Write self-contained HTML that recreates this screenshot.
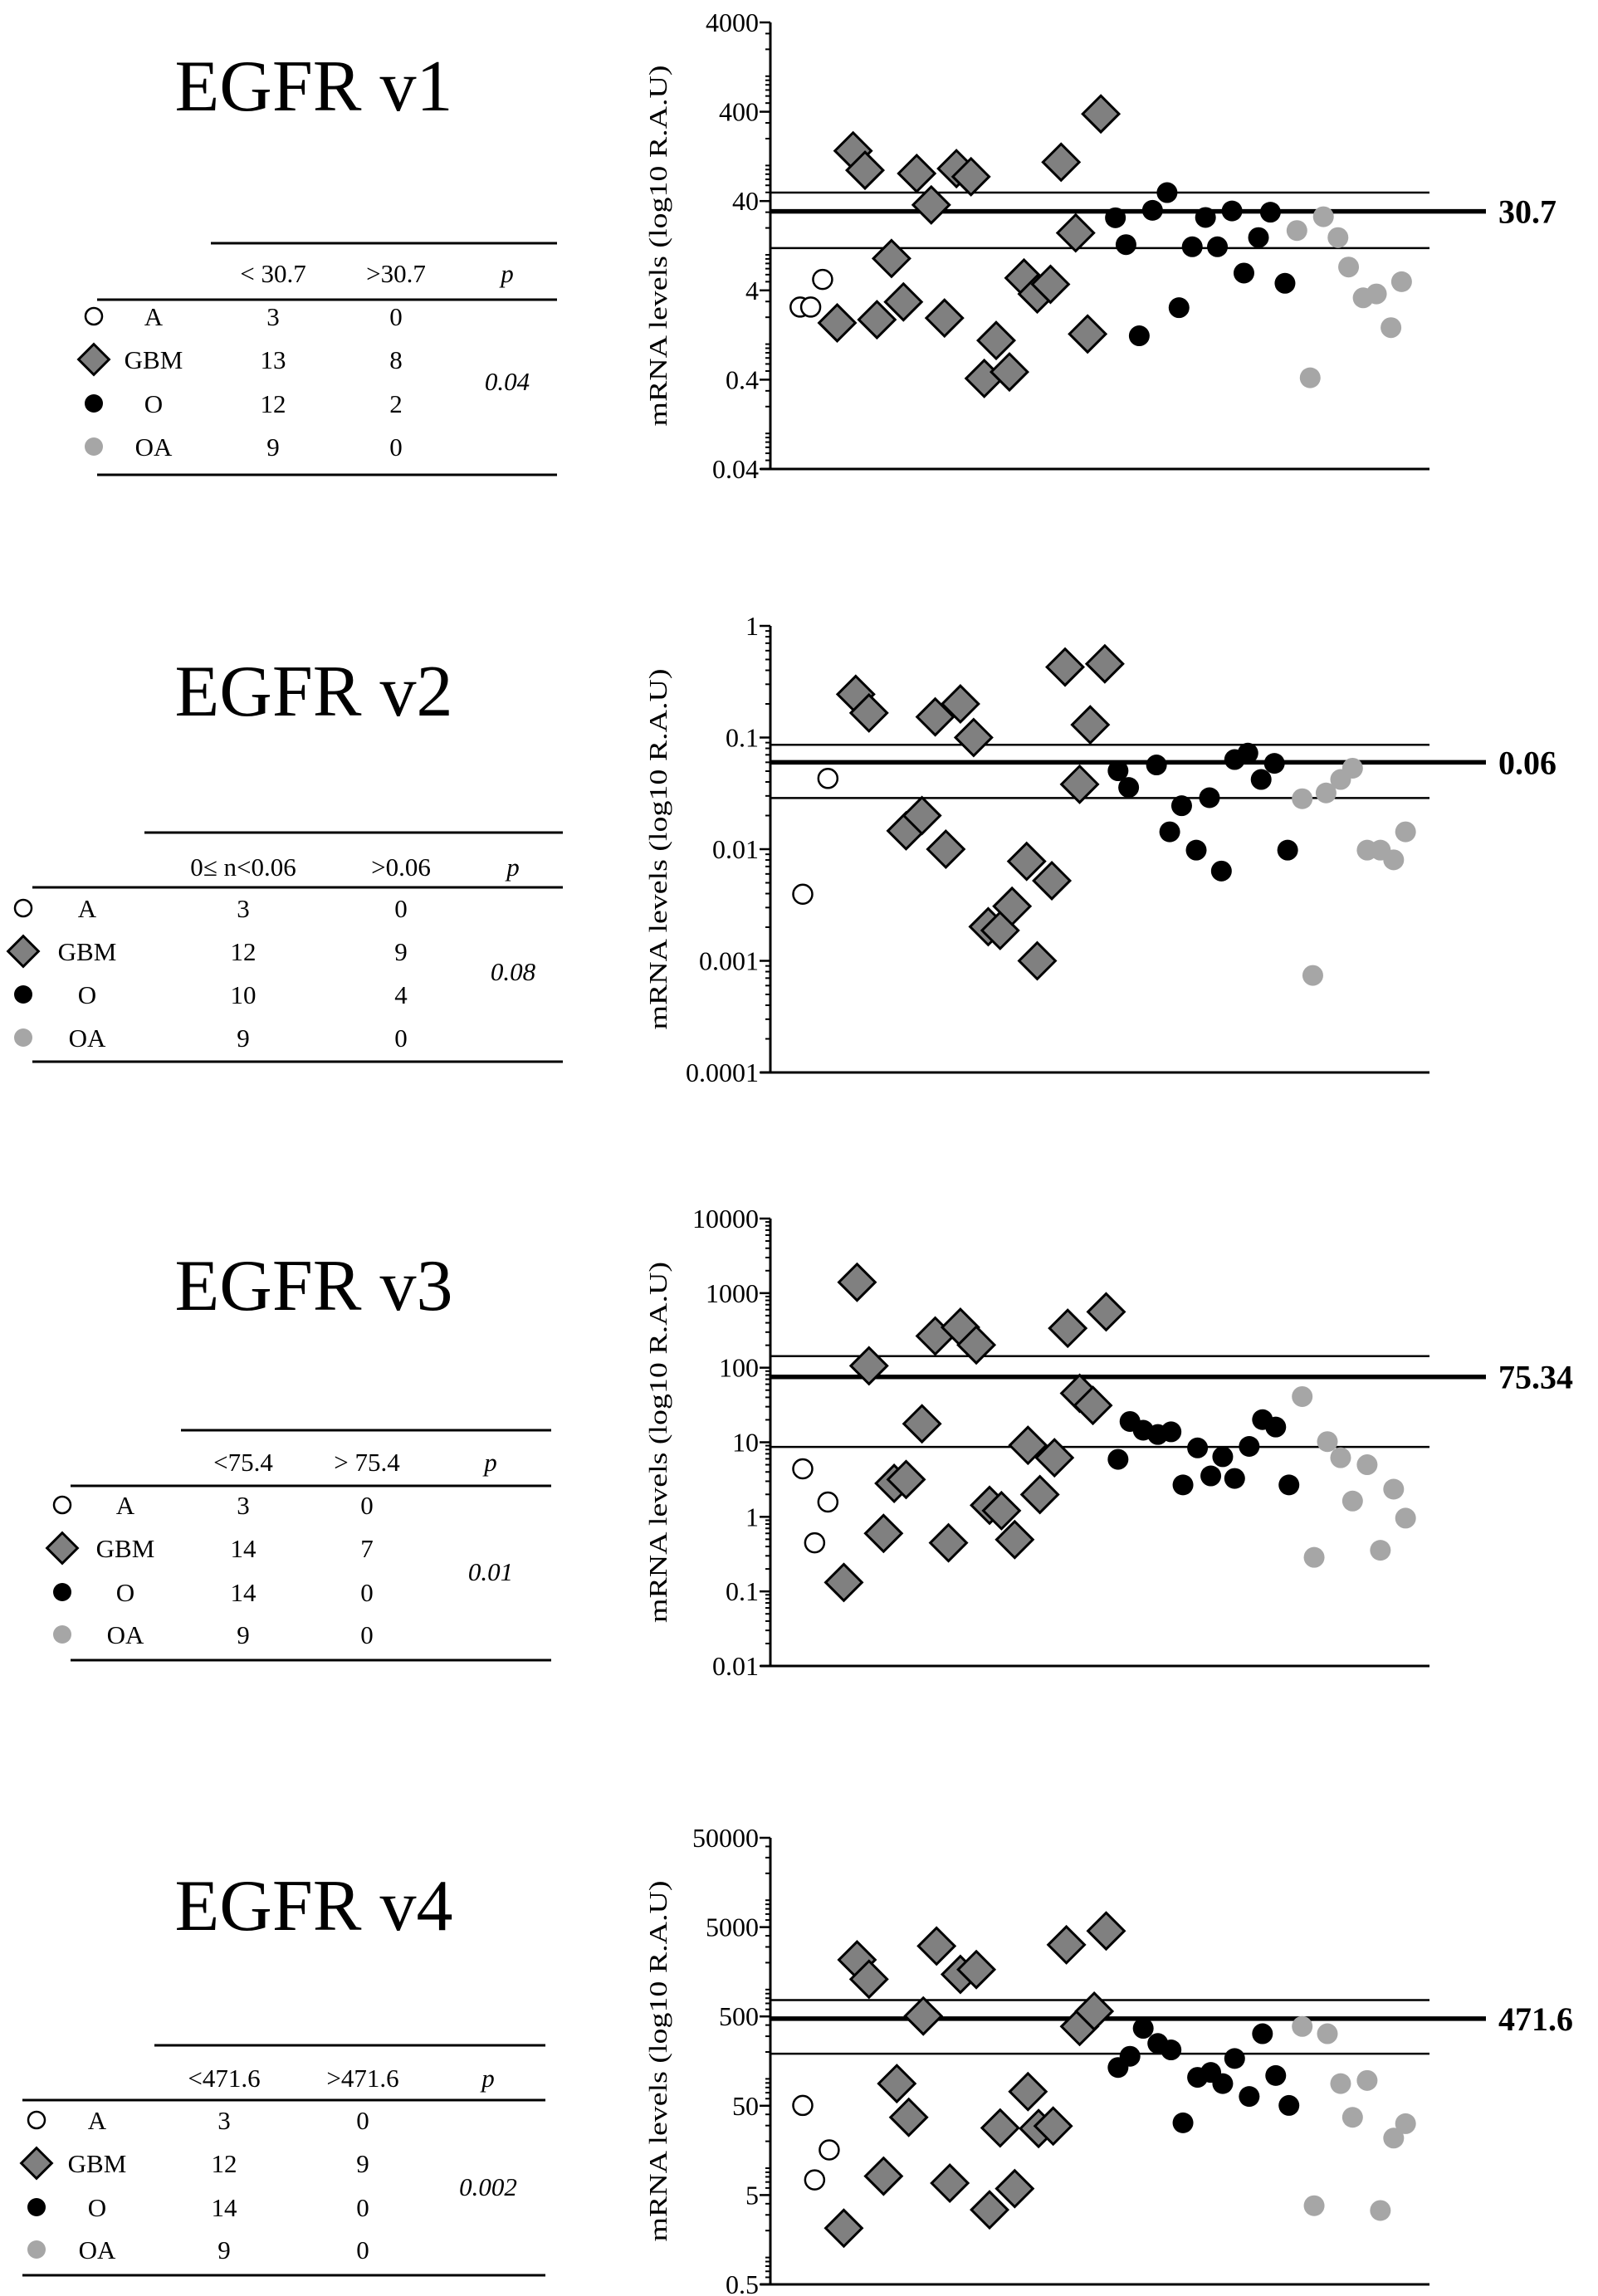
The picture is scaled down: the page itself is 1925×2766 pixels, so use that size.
<!DOCTYPE html>
<html><head><meta charset="utf-8">
<style>
html,body{margin:0;padding:0;background:#fff;}
svg{display:block;font-family:"Liberation Serif",serif;}
</style></head>
<body>
<svg id="fig" width="1925" height="2766" viewBox="0 0 1925 2766" xmlns="http://www.w3.org/2000/svg"></svg>
<script>
// ---------- DATA ----------
// Panel v1
const v1Ticks = [4000, 400, 40, 4, 0.4, 0.04];
const v1Threshold = 30.7, v1Upper = 49.7, v1Lower = 11.9;
const v1A_order = [-0.2, 0.6, 1.5];
const v1A_vals = [2.6, 2.6, 5.3];
const v1GBM_order = [2.6,3.8,4.7,5.6,6.7,7.6,8.6,9.7,10.7,11.6,12.7,13.7,14.6,15.6,16.7,17.7,18.7,19.5,20.6,21.5,22.5];
const v1GBM_vals = [1.73,146,88.5,1.88,9.1,2.97,81.5,36.2,1.96,92.3,75,0.413,1.10,0.488,5.5,3.65,4.68,109,17.6,1.30,378];
const v1O_order = [23.6,24.4,25.4,26.4,27.5,28.4,29.4,30.4,31.3,32.4,33.3,34.4,35.3,36.4];
const v1O_vals = [26,13,1.24,31.5,49.7,2.56,12.3,26.2,12.3,31,6.25,15.6,30,4.8];
const v1OA_order = [37.3,38.3,39.3,40.4,41.2,42.3,43.3,44.4,45.2];
const v1OA_vals = [18.7,0.42,26.7,15.6,7.3,3.3,3.65,1.53,5.0];
// Panel v2
const v2Ticks = [1, 0.1, 0.01, 0.001, 0.0001];
const v2Threshold = 0.06, v2Upper = 0.086, v2Lower = 0.0287;
const v2A_order = [0, 1.9];
const v2A_vals = [0.00395, 0.043];
const v2GBM_order = [4.0,5.0,7.8,9.0,10.0,10.8,11.9,12.9,14.0,14.9,15.8,16.9,17.7,18.8,19.8,20.9,21.7,22.8];
const v2GBM_vals = [0.244,0.166,0.0146,0.020,0.153,0.01,0.2,0.1,0.00202,0.00187,0.00308,0.00778,0.001,0.00522,0.428,0.0381,0.13,0.457];
const v2O_order = [23.8,24.6,26.7,27.7,28.6,29.7,30.7,31.6,32.6,33.6,34.6,35.6,36.6];
const v2O_vals = [0.0504,0.0357,0.0568,0.0143,0.0245,0.0098,0.0289,0.00637,0.0635,0.0725,0.0421,0.0587,0.0098];
const v2OA_order = [37.7,38.5,39.5,40.6,41.5,42.6,43.6,44.6,45.5];
const v2OA_vals = [0.0283,0.00074,0.0319,0.0421,0.0531,0.0098,0.0098,0.00803,0.0143];
// Panel v3
const v3Ticks = [10000, 1000, 100, 10, 1, 0.1, 0.01];
const v3Threshold = 75.34, v3Upper = 143, v3Lower = 8.65;
const v3A_order = [0, 0.9, 1.9];
const v3A_vals = [4.4, 0.448, 1.58];
const v3GBM_order = [3.1,4.1,5.0,6.1,6.9,7.8,9.0,10.0,11.0,11.9,13.1,14.1,15.0,16.0,17.0,17.9,19.0,20.0,20.9,21.9,22.9];
const v3GBM_vals = [0.132,1400,106,0.60,2.81,3.17,17.7,266,0.448,348,202,1.43,1.21,0.495,9.1,1.99,6.2,338,45.4,31.2,561];
const v3O_order = [23.8,24.7,25.7,26.8,27.8,28.7,29.8,30.8,31.7,32.6,33.7,34.7,35.7,36.7];
const v3O_vals = [5.9,19,14.5,12.7,13.8,2.68,8.4,3.54,6.4,3.27,8.8,20.1,16,2.68];
const v3OA_order = [37.7,38.6,39.6,40.6,41.5,42.6,43.6,44.6,45.5];
const v3OA_vals = [41,0.286,10.2,6.2,1.63,5.0,0.356,2.35,0.96];
// Panel v4
const v4Ticks = [50000, 5000, 500, 50, 5, 0.5];
const v4Threshold = 471.6, v4Upper = 762, v4Lower = 191;
const v4A_order = [0, 0.9, 2.0];
const v4A_vals = [50.4, 7.4, 16];
const v4GBM_order = [3.1,4.1,5.0,6.1,7.1,8.0,9.1,10.1,11.1,11.9,13.1,14.1,14.9,16.0,17.0,17.8,18.9,19.9,20.9,22.0,22.9];
const v4GBM_vals = [2.13,2150,1306,8.15,88.5,37.1,505,3070,6.8,1479,1675,3.42,28.2,5.9,72,27.8,29.6,3170,386,571,4530];
const v4O_order = [23.8,24.7,25.7,26.8,27.8,28.7,29.8,30.8,31.7,32.6,33.7,34.7,35.7,36.7];
const v4O_vals = [134,179,368,249,211,32.2,104,118,88.5,169,63.5,320,109,50.4];
const v4OA_order = [37.7,38.6,39.6,40.6,41.5,42.6,43.6,44.6,45.5];
const v4OA_vals = [386,3.8,320,88.5,37.1,96,3.36,21.7,31.5];

// Tables
const groupNames = ["A", "GBM", "O", "OA"];
const v1Headers = ["< 30.7", ">30.7", "p"];
const v1Low = [3, 13, 12, 9], v1High = [0, 8, 2, 0], v1P = "0.04";
const v2Headers = ["0≤ n<0.06", ">0.06", "p"];
const v2Low = [3, 12, 10, 9], v2High = [0, 9, 4, 0], v2P = "0.08";
const v3Headers = ["<75.4", "> 75.4", "p"];
const v3Low = [3, 14, 14, 9], v3High = [0, 7, 0, 0], v3P = "0.01";
const v4Headers = ["<471.6", ">471.6", "p"];
const v4Low = [3, 12, 14, 9], v4High = [0, 9, 0, 0], v4P = "0.002";

// ---------- RENDER ----------
const NS = "http://www.w3.org/2000/svg";
const svg = document.getElementById('fig');
function mk(tag, attrs, parent, text) {
  const e = document.createElementNS(NS, tag);
  for (const k in attrs) e.setAttribute(k, attrs[k]);
  if (text !== undefined) e.textContent = text;
  (parent || svg).appendChild(e);
  return e;
}
function marker(g, type, cx, cy, size) {
  let e;
  if (type === "GBM") {
    const h = size * 1.75;
    e = mk('polygon', {points: `${cx},${cy-h} ${cx+h},${cy} ${cx},${cy+h} ${cx-h},${cy}`, fill: '#808080', stroke: '#000', 'stroke-width': 3}, g);
  } else if (type === "A") {
    e = mk('circle', {cx: cx, cy: cy, r: size - 1, fill: '#fff', stroke: '#000', 'stroke-width': 2.5}, g);
  } else if (type === "O") {
    e = mk('circle', {cx: cx, cy: cy, r: size, fill: '#000'}, g);
  } else {
    e = mk('circle', {cx: cx, cy: cy, r: size, fill: '#a6a6a6'}, g);
  }
  return e;
}

const AX_X = 928, LINE_END = 1722, THICK_END = 1790;
function xScale(order) { return 967 + order * 15.96; }

function drawChart(id, top, bottom, ticks, thr, up, lo, series) {
  const g = mk('g', {}, svg);
  
  
  const lmax = Math.log10(ticks[0]), lmin = Math.log10(ticks[ticks.length - 1]);
  const yScale = v => top + (lmax - Math.log10(v)) / (lmax - lmin) * (bottom - top);
  const ax = mk('line', {x1: AX_X, y1: top, x2: AX_X, y2: bottom, stroke: '#000', 'stroke-width': 3}, g);
  
  
  for (let m = Math.floor(lmin) - 1; m <= Math.ceil(lmax); m++) {
    for (let k = 1; k <= 9; k++) {
      const v = k * Math.pow(10, m);
      const lv = Math.log10(v);
      if (lv < lmin - 1e-9 || lv > lmax + 1e-9) continue;
      const y = yScale(v);
      mk('line', {x1: AX_X - 6, y1: y, x2: AX_X, y2: y, stroke: '#000', 'stroke-width': 2}, g);
    }
  }
  ticks.forEach(t => {
    const y = yScale(t);
    mk('line', {x1: AX_X - 13, y1: y, x2: AX_X, y2: y, stroke: '#000', 'stroke-width': 2.5}, g);
    const tl = mk('text', {x: AX_X - 14, y: y + 11, 'text-anchor': 'end', 'font-size': 32}, g, String(t));
    
    
  });
  const xb = mk('line', {x1: AX_X - 12, y1: bottom, x2: LINE_END, y2: bottom, stroke: '#000', 'stroke-width': 3}, g);
  
  
  const mid = (top + bottom) / 2;
  const yt = mk('text', {x: 0, y: 0, 'text-anchor': 'middle', 'font-size': 31, textLength: 435, lengthAdjust: 'spacingAndGlyphs', transform: `translate(803,${mid}) rotate(-90)`}, g, 'mRNA levels (log10 R.A.U)');
  
  
  [up, lo].forEach((v, i) => {
    const l = mk('line', {x1: AX_X, y1: yScale(v), x2: LINE_END, y2: yScale(v), stroke: '#000', 'stroke-width': 2.5}, g);
    
    
  });
  const tl = mk('line', {x1: AX_X, y1: yScale(thr), x2: THICK_END, y2: yScale(thr), stroke: '#000', 'stroke-width': 5.5}, g);
  
  
  const lab = mk('text', {x: 1805, y: yScale(thr) + 14, 'font-size': 40, 'font-weight': 'bold'}, g, String(thr));
  
  
  series.forEach(s => {
    s.order.forEach((o, i) => {
      const p = marker(g, s.type, xScale(o), yScale(s.vals[i]), 12.5);
      
      
    });
  });
}

function drawTable(id, cfg) {
  const g = mk('g', {transform: `translate(0,${cfg.dy})`}, svg);
  
  
  const t = mk('text', {x: 378, y: cfg.titleY, 'text-anchor': 'middle', 'font-size': 88}, g, 'EGFR ' + id);
  
  
  mk('line', {x1: cfg.topX1, y1: cfg.topY, x2: cfg.right, y2: cfg.topY, stroke: '#000', 'stroke-width': 3}, g);
  mk('line', {x1: cfg.left, y1: cfg.line2Y, x2: cfg.right, y2: cfg.line2Y, stroke: '#000', 'stroke-width': 3}, g);
  mk('line', {x1: cfg.left, y1: cfg.bottomY, x2: cfg.right, y2: cfg.bottomY, stroke: '#000', 'stroke-width': 3}, g);
  cfg.headers.forEach((h, i) => {
    const e = mk('text', {x: cfg.cols[i], y: cfg.headY, 'text-anchor': 'middle', 'font-size': 31, 'font-style': i === 2 ? 'italic' : 'normal'}, g, h);
    
    
  });
  groupNames.forEach((n, r) => {
    const y = cfg.rows[r];
    const m = marker(g, n, cfg.symX, y - 11, n === "GBM" ? 10.5 : 11);
    
    
    const lbl = mk('text', {x: cfg.labX, y: y, 'text-anchor': 'middle', 'font-size': 31}, g, n);
    
    
    mk('text', {x: cfg.cols[0], y: y, 'text-anchor': 'middle', 'font-size': 31}, g, String(cfg.low[r]));
    mk('text', {x: cfg.cols[1], y: y, 'text-anchor': 'middle', 'font-size': 31}, g, String(cfg.high[r]));
  });
  const p = mk('text', {x: cfg.cols[2], y: cfg.pY, 'text-anchor': 'middle', 'font-size': 31, 'font-style': 'italic'}, g, cfg.p);
  
  
}

drawTable('v1', {dy: -4, titleY: 137, topX1: 254, topY: 297, left: 117, right: 671, line2Y: 365, bottomY: 576,
  headY: 344, cols: [329, 477, 611], headers: v1Headers, rows: [396, 448, 501, 553], symX: 113, labX: 185,
  low: v1Low, high: v1High, p: v1P, pY: 474});
drawTable('v2', {dy: -9, titleY: 871, topX1: 174, topY: 1012, left: 39, right: 678, line2Y: 1078, bottomY: 1288,
  headY: 1064, cols: [293, 483, 618], headers: v2Headers, rows: [1114, 1166, 1218, 1270], symX: 28, labX: 105,
  low: v2Low, high: v2High, p: v2P, pY: 1190});
drawTable('v3', {dy: -14, titleY: 1592, topX1: 218, topY: 1737, left: 85, right: 664, line2Y: 1804, bottomY: 2014,
  headY: 1786, cols: [293, 442, 591], headers: v3Headers, rows: [1838, 1890, 1943, 1994], symX: 75, labX: 151,
  low: v3Low, high: v3High, p: v3P, pY: 1918});
drawTable('v4', {dy: -17, titleY: 2342, topX1: 186, topY: 2481, left: 27, right: 657, line2Y: 2547, bottomY: 2758,
  headY: 2531, cols: [270, 437, 588], headers: v4Headers, rows: [2582, 2634, 2687, 2738], symX: 44, labX: 117,
  low: v4Low, high: v4High, p: v4P, pY: 2662});

drawChart('v1', 27, 565, v1Ticks, v1Threshold, v1Upper, v1Lower, [
  {type: "A", order: v1A_order, vals: v1A_vals},
  {type: "GBM", order: v1GBM_order, vals: v1GBM_vals},
  {type: "O", order: v1O_order, vals: v1O_vals},
  {type: "OA", order: v1OA_order, vals: v1OA_vals}]);
drawChart('v2', 754, 1292, v2Ticks, v2Threshold, v2Upper, v2Lower, [
  {type: "A", order: v2A_order, vals: v2A_vals},
  {type: "GBM", order: v2GBM_order, vals: v2GBM_vals},
  {type: "O", order: v2O_order, vals: v2O_vals},
  {type: "OA", order: v2OA_order, vals: v2OA_vals}]);
drawChart('v3', 1468, 2007, v3Ticks, v3Threshold, v3Upper, v3Lower, [
  {type: "A", order: v3A_order, vals: v3A_vals},
  {type: "GBM", order: v3GBM_order, vals: v3GBM_vals},
  {type: "O", order: v3O_order, vals: v3O_vals},
  {type: "OA", order: v3OA_order, vals: v3OA_vals}]);
drawChart('v4', 2214, 2752, v4Ticks, v4Threshold, v4Upper, v4Lower, [
  {type: "A", order: v4A_order, vals: v4A_vals},
  {type: "GBM", order: v4GBM_order, vals: v4GBM_vals},
  {type: "O", order: v4O_order, vals: v4O_vals},
  {type: "OA", order: v4OA_order, vals: v4OA_vals}]);
</script>
</body></html>
